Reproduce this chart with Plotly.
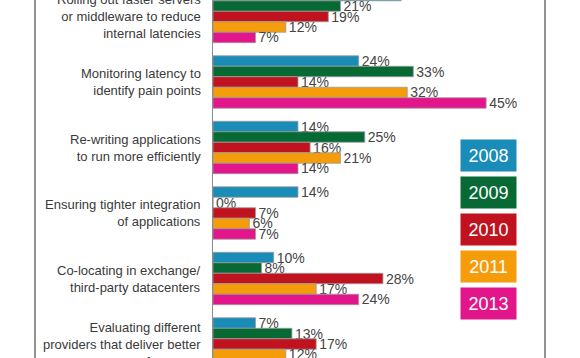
import plotly.graph_objects as go

categories = [
    "Rolling out faster servers<br>or middleware to reduce<br>internal latencies",
    "Monitoring latency to<br>identify pain points",
    "Re-writing applications<br>to run more efficiently",
    "Ensuring tighter integration<br>of applications",
    "Co-locating in exchange/<br>third-party datacenters",
    "Evaluating different<br>providers that deliver better<br>performance",
]
years = ["2008", "2009", "2010", "2011", "2013"]
v2008 = [31, 24, 14, 14, 10, 7]
v2009 = [21, 33, 25, 0, 8, 13]
v2010 = [19, 14, 16, 7, 28, 17]
v2011 = [12, 32, 21, 6, 17, 12]
v2013 = [7, 45, 14, 7, 24, None]
series = [v2008, v2009, v2010, v2011, v2013]
colors = ["#1a8cb8", "#076a35", "#c1131f", "#f59c0a", "#e2168a"]

W, H = 580, 358
group_px = 65.5
top_center_px = 16.5
y_top = -top_center_px / group_px
y_bot = y_top + H / group_px

fig = go.Figure()
idx = list(range(len(categories)))
for s, (name, vals, col) in enumerate(zip(years, series, colors)):
    labels = []
    for i, v in enumerate(vals):
        # the first group's 2008 label lies above the cropped picture edge
        if v is None or (i == 0 and s == 0):
            labels.append("")
        else:
            labels.append(f"{v}%")
    fig.add_trace(go.Bar(
        name=name, y=idx, x=vals, orientation="h",
        marker=dict(color=col, line=dict(color="#9a9a9a", width=0.8)),
        text=labels,
        textposition="outside", constraintext="none", cliponaxis=True,
        textfont=dict(family="Liberation Sans, Arial, sans-serif", size=14, color="#444444"),
        showlegend=False, hoverinfo="skip",
    ))

ax0, ax1 = 213 / W, 545 / W
px_per_unit = 6.07
xmax = (545 - 213) / px_per_unit

annotations = []
for i, c in enumerate(categories):
    annotations.append(dict(
        x=203 / W, xref="paper", xanchor="right", y=i, yref="y", yanchor="middle",
        text=c, showarrow=False, align="right",
        font=dict(family="Liberation Sans, Arial, sans-serif", size=13, color="#3a3a3a"),
    ))
for k, (name, col) in enumerate(zip(years, colors)):
    cy = 155.5 + k * 37
    annotations.append(dict(
        x=488.5 / W, xref="paper", xanchor="center",
        y=1 - cy / H, yref="paper", yanchor="middle",
        text=name, showarrow=False, bgcolor=col, width=51, height=27,
        borderpad=2, align="center", valign="middle",
        font=dict(family="Liberation Sans, Arial, sans-serif", size=18, color="white"),
    ))

shapes = [
    dict(type="line", xref="paper", yref="paper", x0=35 / W, x1=35 / W, y0=0, y1=1,
         line=dict(color="#6e6e6e", width=1.5)),
    dict(type="line", xref="paper", yref="paper", x0=545 / W, x1=545 / W, y0=0, y1=1,
         line=dict(color="#6e6e6e", width=1.5)),
]

fig.update_layout(
    width=W, height=H,
    margin=dict(l=0, r=0, t=0, b=0),
    paper_bgcolor="white", plot_bgcolor="white",
    barmode="group", bargap=0.2, bargroupgap=0.0,
    xaxis=dict(domain=[ax0, ax1], range=[0, xmax], showgrid=False, zeroline=False,
               showticklabels=False, showline=False, fixedrange=True),
    yaxis=dict(range=[y_bot, y_top], showgrid=False, zeroline=False,
               showticklabels=False, showline=True, linecolor="#8a8a8a", linewidth=1,
               fixedrange=True),
    annotations=annotations, shapes=shapes,
)

fig.write_html("out.html", config={"displayModeBar": False},
               post_script="document.body.style.margin='0';document.body.style.overflow='hidden';")
